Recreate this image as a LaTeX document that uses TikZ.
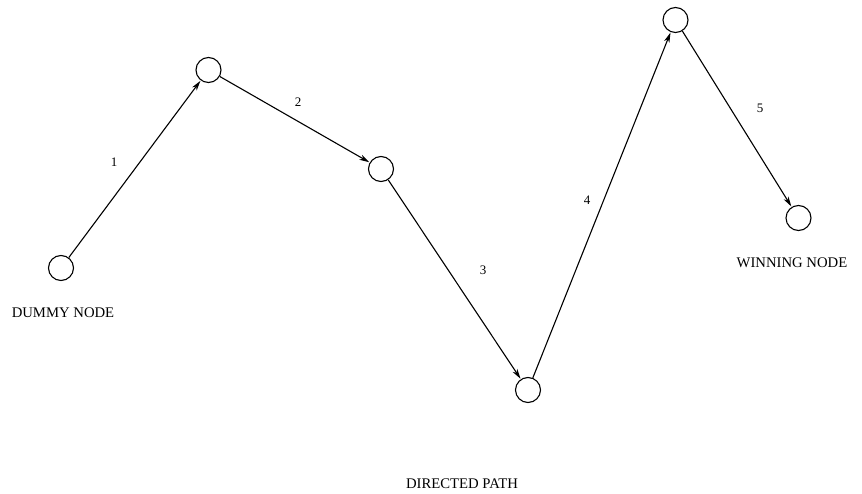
\documentclass[tikz,border=0pt]{standalone}
\usepackage{fontspec}
\setmainfont{Liberation Serif}
\usetikzlibrary{arrows.meta}
\begin{document}
\begin{tikzpicture}[x=1pt,y=-1pt,
  vtx/.style={circle,draw,line width=1.1pt,minimum size=25pt,inner sep=0pt},
  edge/.style={line width=1.1pt,-{Stealth[length=10pt,width=5.5pt,inset=3pt]},shorten >=0.5pt},
  lbl/.style={font=\fontsize{13}{15}\selectfont,inner sep=0pt},
  captext/.style={font=\fontsize{14.7}{17}\selectfont,inner sep=0pt}]
\useasboundingbox (0,0) rectangle (862,494);
\node[vtx] (a) at (61,268) {};
\node[vtx] (b) at (208.5,70) {};
\node[vtx] (c) at (381,169) {};
\node[vtx] (d) at (528,390) {};
\node[vtx] (e) at (675.5,20) {};
\node[vtx] (f) at (798.5,218) {};
\draw[edge] (a) -- (b);
\draw[edge] (b) -- (c);
\draw[edge] (c) -- (d);
\draw[edge] (d) -- (e);
\draw[edge] (e) -- (f);
\node[lbl] (l1) at (114,162) {1};
\node[lbl] (l2) at (298,102) {2};
\node[lbl] (l3) at (483,270) {3};
\node[lbl] (l4) at (587,200) {4};
\node[lbl] (l5) at (760,108) {5};
\node[captext] (ta) at (63,313) {DUMMY NODE};
\node[captext] (tf) at (792,263) {WINNING NODE};
\node[captext] (tp) at (462,484) {DIRECTED PATH};
\end{tikzpicture}
\end{document}
